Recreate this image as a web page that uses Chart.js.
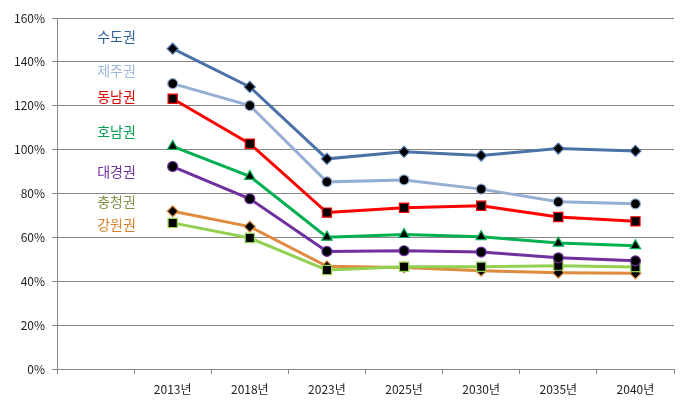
<!DOCTYPE html>
<html>
<head>
<meta charset="utf-8">
<script src="https://cdn.jsdelivr.net/npm/chart.js@4/dist/chart.umd.min.js"></script>
<style>
    html, body { margin: 0; padding: 0; background: #fff; }
    #wrap { width: 690px; height: 417px; }
</style>
</head>
<body>
<div id="wrap"><canvas id="Line"></canvas></div>
<script>
// 첫 칸은 권역 이름을 쓰는 빈 자리
const years = ["", "2013년", "2018년", "2023년", "2025년", "2030년", "2035년", "2040년"];
const yTicks = [0, 20, 40, 60, 80, 100, 120, 140, 160];

const sudo     = [null, 146, 128.6, 95.8, 99.0, 97.3, 100.5, 99.4];   // 수도권
const jeju     = [null, 130.1, 120.1, 85.3, 86.2, 82.0, 76.2, 75.3];  // 제주권
const dongnam  = [null, 123.2, 102.7, 71.3, 73.5, 74.4, 69.3, 67.3];  // 동남권
const honam    = [null, 101.5, 87.8, 60.1, 61.3, 60.3, 57.4, 56.2];   // 호남권
const daegyeong= [null, 92.3, 77.6, 53.6, 53.9, 53.3, 50.7, 49.3];    // 대경권
const chungcheong=[null, 66.6, 59.7, 45.1, 46.6, 46.6, 47.1, 46.5];   // 충청권
const gangwon  = [null, 71.9, 64.9, 46.8, 46.3, 44.8, 43.9, 43.6];    // 강원권

const font = '"Noto Sans CJK KR", "Noto Sans", sans-serif';

function ds(label, data, color, style, radius) {
    return {
        label: label,
        data: data,
        borderColor: color,
        borderWidth: 3,
        pointStyle: style,
        pointRadius: radius,
        pointBackgroundColor: '#000',
        pointBorderColor: color,
        pointBorderWidth: 1.2,
        tension: 0,
        fill: false
    };
}

const datasets = [
    ds("수도권", sudo, '#4A72A6', 'rectRot', 5.5),
    ds("제주권", jeju, '#95AED3', 'circle', 5),
    ds("동남권", dongnam, '#FF0000', 'rect', 6.5),
    ds("호남권", honam, '#00B050', 'triangle', 6),
    ds("대경권", daegyeong, '#7030A0', 'circle', 5),
    ds("충청권", chungcheong, '#92D050', 'rect', 6.5),
    ds("강원권", gangwon, '#DF8A3E', 'rectRot', 5.5)
];

// 권역 이름 (왼쪽 빈 칸에 적힌 글자)
const regionLabels = [
    { text: "수도권", color: '#2F619C', y: 37 },
    { text: "제주권", color: '#9DB9DA', y: 71 },
    { text: "동남권", color: '#E00000', y: 97 },
    { text: "호남권", color: '#00A050', y: 132 },
    { text: "대경권", color: '#7030A0', y: 172 },
    { text: "충청권", color: '#7F9448', y: 202 },
    { text: "강원권", color: '#D9822B', y: 225 }
];

const labelPlugin = {
    id: 'regionLabels',
    afterDatasetsDraw(chart) {
        const ctx = chart.ctx;
        const x = chart.scales.x.getPixelForValue(0) + 21;
        ctx.save();
        ctx.font = '14px ' + font;
        ctx.textAlign = 'center';
        ctx.textBaseline = 'middle';
        regionLabels.forEach(function (r) {
            ctx.fillStyle = r.color;
            ctx.fillText(r.text, x, r.y);
        });
        ctx.restore();
    }
};

new Chart(document.querySelector("#Line"), {
    type: "line",
    data: { labels: years, datasets: datasets },
    plugins: [labelPlugin],
    options: {
        responsive: true,
        maintainAspectRatio: false,
        animation: false,
        layout: { padding: { left: 0, right: 16, top: 18, bottom: 0 } },
        plugins: {
            legend: { display: false },
            title: { display: false },
            tooltip: { enabled: false }
        },
        scales: {
            x: {
                offset: true,
                grid: {
                    offset: true,
                    drawOnChartArea: false,
                    drawTicks: true,
                    tickLength: 5,
                    color: '#868686'
                },
                border: { color: '#868686' },
                ticks: {
                    font: { family: font, size: 12 },
                    color: '#222',
                    padding: 8,
                    maxRotation: 0,
                    autoSkip: false
                },
                afterFit(scale) { scale.height = 48; }
            },
            y: {
                min: 0,
                max: 160,
                afterBuildTicks(scale) {
                    scale.ticks = yTicks.map(function (v) { return { value: v }; });
                },
                grid: {
                    color: '#868686',
                    tickLength: 5
                },
                border: { color: '#868686' },
                ticks: {
                    font: { family: font, size: 12 },
                    color: '#222',
                    padding: 7,
                    callback: function (v) { return v + '%'; }
                },
                afterFit(scale) { scale.width = 57; }
            }
        }
    }
});
</script>
</body>
</html>
